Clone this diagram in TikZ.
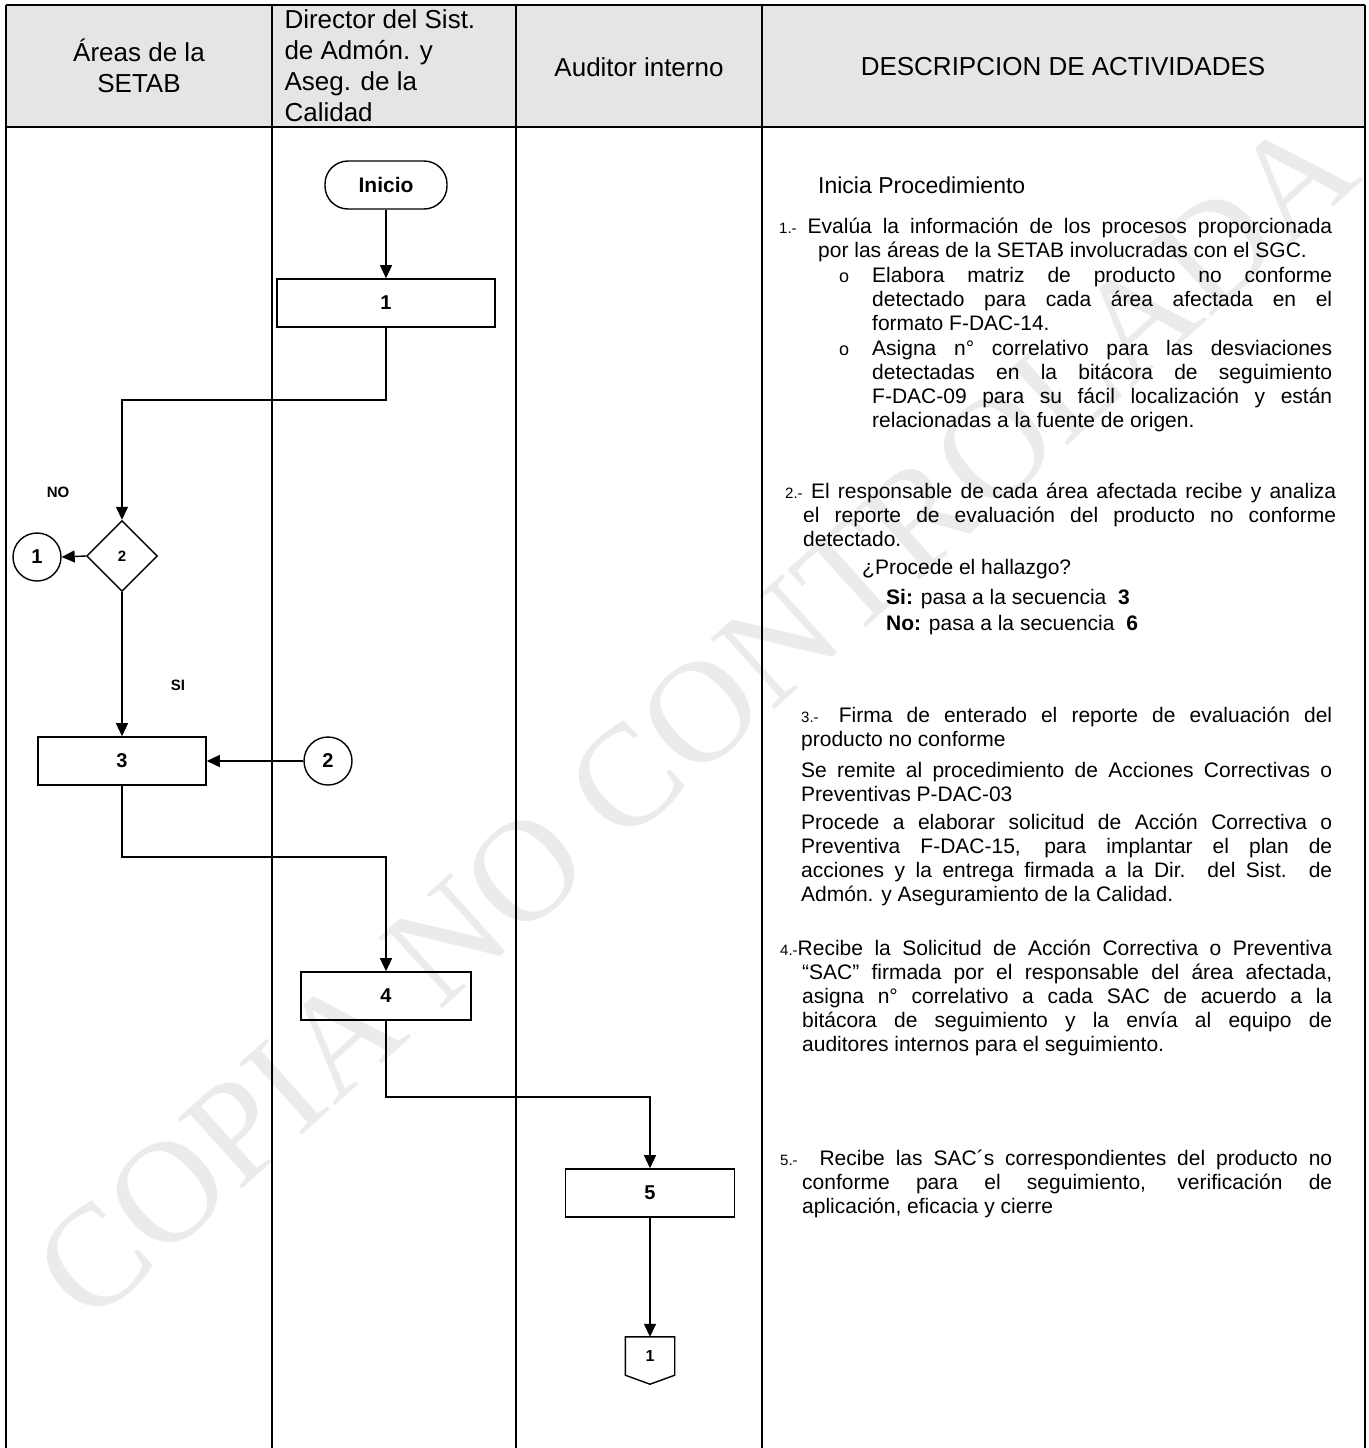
\documentclass[tikz,border=0pt]{standalone}
\usepackage{fontspec}
\setmainfont{Liberation Sans}
\newfontfamily\wmfont{Liberation Serif}
\usetikzlibrary{arrows.meta,shapes.geometric,positioning,calc}

\newcommand\numsz{\fontsize{15}{18}\selectfont}
\newcommand\ls{\rule{0pt}{20pt}}

\tikzset{
  lane/.style={line width=2.4pt},
  proc/.style={draw, line width=1.6pt, minimum height=48pt, font=\bfseries\fontsize{20}{23}\selectfont},
  term/.style={draw, line width=1.4pt, rounded corners=23pt, minimum width=122pt, minimum height=48pt, font=\bfseries\fontsize{21}{24}\selectfont},
  dec/.style={draw, diamond, line width=1.4pt, minimum width=71pt, minimum height=71pt, inner sep=0pt, font=\bfseries\fontsize{15}{17}\selectfont},
  conn/.style={draw, circle, line width=1.4pt, minimum size=48pt, inner sep=0pt, font=\bfseries\fontsize{20}{23}\selectfont},
  offp/.style={minimum width=49pt, minimum height=38pt, inner sep=0pt, font=\bfseries\fontsize{16}{18}\selectfont},
  flow/.style={-{Triangle[length=13pt,width=12pt]}, line width=1.4pt},
  lbl/.style={font=\bfseries\fontsize{15}{17}\selectfont},
  hdr/.style={font=\fontsize{26}{31}\selectfont},
  desc/.style={anchor=north west, inner sep=0pt, align=justify, font=\fontsize{21}{24}\selectfont},
  bul/.style={anchor=base west, inner sep=0pt, font=\fontsize{18}{20}\selectfont},
  wmark/.style={rotate=42, text=black!8, font=\wmfont\fontsize{145}{145}\selectfont}
}

\begin{document}
\begin{tikzpicture}[x=1pt,y=-1pt]
\useasboundingbox (0,0) rectangle (1368,1448);

% watermark
\node[wmark] (wm) at (695,718) {COPIA NO CONTROLADA};

% table
\fill[black!10] (6,5) rectangle (1365,127);
\draw[lane] (6,5) -- (1365,5);
\draw[lane] (6,127) -- (1365,127);
\foreach \x in {6,272,516,762,1365}
  \draw[lane] (\x,5) -- (\x,1448);

% headers
\node[hdr, align=center] (hA) at (139,66) {Áreas de la\\SETAB};
\node[hdr, align=left, anchor=west] (hD) at (281,66) {Director del Sist.\\de Admón. y\\Aseg. de la\\Calidad};
\node[hdr] (hU) at (639,67) {Auditor interno};
\node[hdr] (hE) at (1063,67) {DESCRIPCION DE ACTIVIDADES};

% flow
\node[term] (ini) at (386,185) {Inicio};
\node[proc, minimum width=218pt] (p1) at (386,303) {1};
\node[dec] (d2) at (122,556) {2};
\node[conn] (k1) at (37,557) {1};
\node[proc, minimum width=168pt] (p3) at (122,761) {3};
\node[conn] (k2) at (328,761) {2};
\node[proc, minimum width=170pt] (p4) at (386,996) {4};
\node[proc, minimum width=169pt] (p5) at (650,1193) {5};
\node[offp] (op) at (650,1356) {1};
\draw[line width=1.4pt] (op.north west) -- (op.north east) -- (op.south east)
  -- ($(op.south)+(0,9)$) -- (op.south west) -- cycle;

\node[lbl] (no) at (58,492) {NO};
\node[lbl] (si) at (178,685) {SI};

\coordinate (j1) at (0,400);
\coordinate (j3) at (0,857);
\coordinate (j4) at (0,1097);

\draw[flow] (ini) -- (p1);
\draw[flow] (p1.south) -- (p1.south |- j1) -| (d2.north);
\draw[flow] (d2.west) -- (k1.east);
\draw[flow] (d2.south) -- (p3.north);
\draw[flow] (k2.west) -- (p3.east);
\draw[flow] (p3.south) -- (p3.south |- j3) -| (p4.north);
\draw[flow] (p4.south) -- (p4.south |- j4) -| (p5.north);
\draw[flow] (p5.south) -- (op.north);

% descripcion
\node[anchor=west, inner sep=0pt, font=\fontsize{23}{26}\selectfont] (t0) at (818,185) {Inicia Procedimiento};

\node[desc, text width=553pt] (t1) at (779,213) {\hangindent=39pt\hangafter=1\ls{\numsz 1.-} Evalúa la información de los procesos proporcionada\linebreak por las áreas de la SETAB involucradas con el SGC.\par};
\node[bul] (o1) at (839,282) {o};
\node[desc, text width=460pt] (t1a) at (872,262) {\ls Elabora matriz de producto no conforme\linebreak detectado para cada área afectada en el\linebreak formato F-DAC-14.\par};
\node[bul] (o2) at (839,355) {o};
\node[desc, text width=460pt] (t1b) at (872,335) {\ls Asigna n° correlativo para las desviaciones\linebreak detectadas en la bitácora de seguimiento\linebreak F-DAC-09 para su fácil localización y están\linebreak relacionadas a la fuente de origen.\par};

\node[desc, text width=551pt] (t2) at (785,478) {\hangindent=18pt\hangafter=1\ls{\numsz 2.-} El responsable de cada área afectada recibe y analiza\linebreak el reporte de evaluación del producto no conforme\linebreak detectado.\par};
\node[anchor=west, inner sep=0pt, font=\fontsize{21}{24}\selectfont] (q2) at (862,569) {¿Procede el hallazgo?};
\node[anchor=west, inner sep=0pt, font=\fontsize{21}{24}\selectfont] (s2) at (886,599) {\textbf{Si:} pasa a la secuencia~~\textbf{3}};
\node[anchor=west, inner sep=0pt, font=\fontsize{21}{24}\selectfont] (n2) at (886,625) {\textbf{No:} pasa a la secuencia~~\textbf{6}};

\node[desc, text width=531pt] (t3) at (801,702) {\ls{\numsz 3.-}\hspace{6pt} Firma de enterado el reporte de evaluación del\linebreak producto no conforme\par};
\node[desc, text width=531pt] (t3a) at (801,757) {\ls Se remite al procedimiento de Acciones Correctivas o\linebreak Preventivas P-DAC-03\par};
\node[desc, text width=531pt] (t3b) at (801,809) {\ls Procede a elaborar solicitud de Acción Correctiva o\linebreak Preventiva F-DAC-15, para implantar el plan de\linebreak acciones y la entrega firmada a la Dir. del Sist. de\linebreak Admón. y Aseguramiento de la Calidad.\par};

\node[desc, text width=552pt] (t4) at (780,935) {\hangindent=22pt\hangafter=1\ls{\numsz 4.-}Recibe la Solicitud de Acción Correctiva o Preventiva\linebreak “SAC” firmada por el responsable del área afectada,\linebreak asigna n° correlativo a cada SAC de acuerdo a la\linebreak bitácora de seguimiento y la envía al equipo de\linebreak auditores internos para el seguimiento.\par};

\node[desc, text width=552pt] (t5) at (780,1145) {\hangindent=22pt\hangafter=1\ls{\numsz 5.-}~~Recibe las SAC´s correspondientes del producto no\linebreak conforme para el seguimiento, verificación de\linebreak aplicación, eficacia y cierre\par};
\end{tikzpicture}
\end{document}
